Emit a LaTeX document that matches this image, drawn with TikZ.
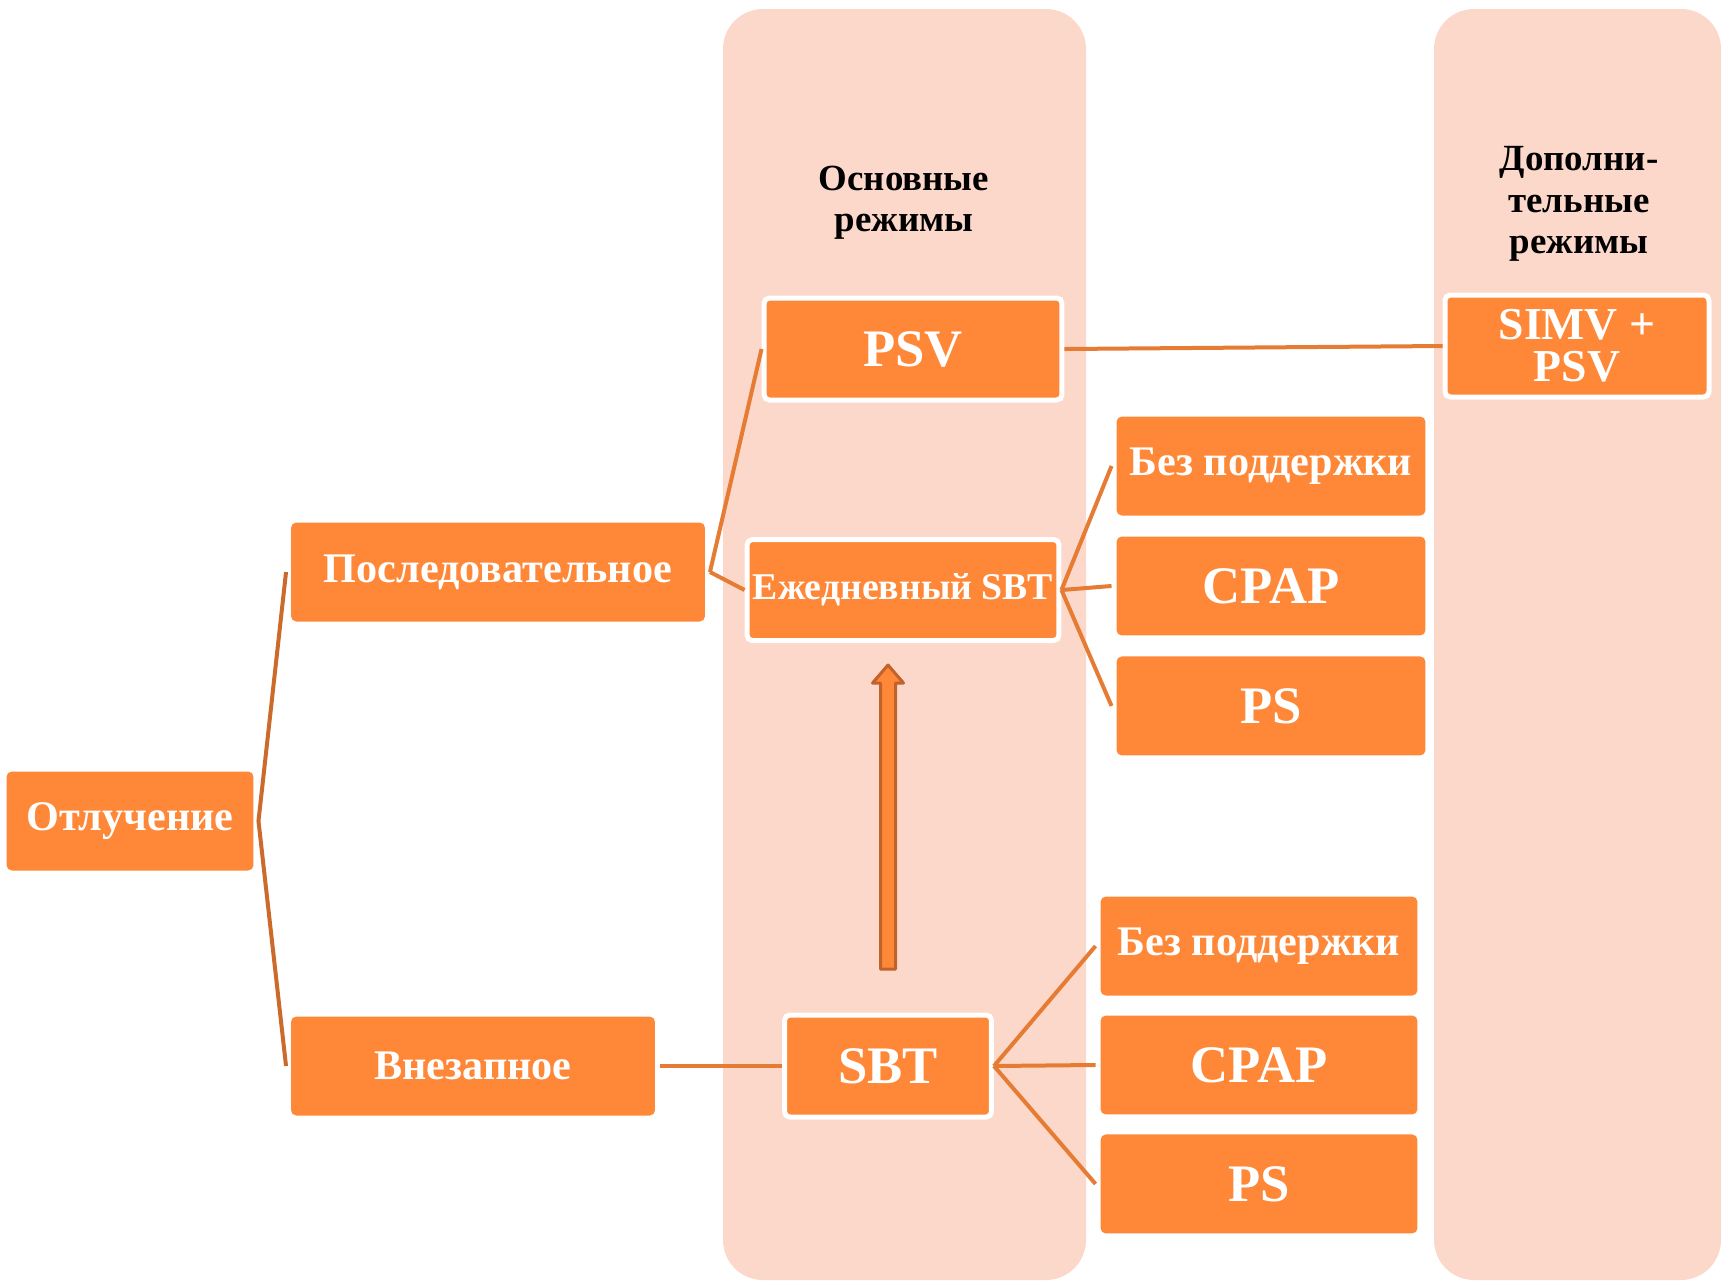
\documentclass[tikz,border=0pt]{standalone}
\usepackage{fontspec}
\setmainfont{Liberation Serif}
\usepackage{tikz}
\usetikzlibrary{positioning}
\definecolor{boxfill}{RGB}{254,136,56}
\definecolor{panelfill}{RGB}{252,216,203}
\definecolor{linkc}{RGB}{230,124,52}
\definecolor{linkdark}{RGB}{204,106,44}
\definecolor{arrdark}{RGB}{192,98,42}

\begin{document}
\begin{tikzpicture}[
  x=0.02cm, y=-0.02cm,
  node distance=0.22cm,
  box/.style={rectangle, rounded corners=3pt, fill=boxfill, text=white, align=center,
              inner sep=0pt, outer sep=0.1cm, minimum height=1.98cm},
  framed/.style={box, draw=white, line width=0.1cm, outer sep=0.05cm},
  txtbig/.style={font=\fontsize{30}{31}\selectfont\bfseries},
  txtmid/.style={font=\fontsize{24}{26}\selectfont\bfseries},
  txtsmall/.style={font=\fontsize{21.5}{23}\selectfont\bfseries},
  head/.style={font=\fontsize{21}{23.5}\selectfont\bfseries, align=center, text=black},
  link/.style={draw=linkc, line width=0.08cm},
  blockarr/.style={fill=boxfill, draw=arrdark, line width=0.06cm, line join=round}
]
  \useasboundingbox (0,0) rectangle (1723,1282);

  % column panels
  \fill[panelfill, rounded corners=0.8cm] (723,9) rectangle (1086,1280);
  \fill[panelfill, rounded corners=0.8cm] (1434,9) rectangle (1721,1280);
  \node[head] (mainhead) at (904,203) {Основные\\режимы};
  \node[head] (extrahead) at (1579,204) {Дополни-\\тельные\\режимы};

  % tree
  \node[box, txtmid, minimum width=4.94cm] (otl) at (130,821) {Отлучение};
  \node[box, txtmid, minimum width=8.28cm] (posl) at (498,572) {Последовательное};
  \node[box, txtmid, minimum width=7.28cm] (vnez) at (473,1066) {Внезапное};

  \node[framed, txtbig, minimum width=5.96cm, minimum height=2.04cm] (psv) at (913,349) {PSV};
  \node[framed, txtsmall, minimum width=6.24cm, minimum height=2.02cm] (daily) at (903,590) {Ежедневный SBT};
  \node[framed, txtbig, minimum width=4.14cm, minimum height=2.04cm] (sbt) at (888,1066) {SBT};
  \node[framed, font=\fontsize{26}{24}\selectfont\bfseries, minimum width=5.28cm, minimum height=2.04cm] (simv) at (1577,346) {SIMV +\\PSV};

  \node[box, txtmid, minimum width=6.18cm] (nosup1) at (1271,466) {Без поддержки};
  \node[box, txtbig, minimum width=6.18cm, below=of nosup1] (cpap1) {CPAP};
  \node[box, txtbig, minimum width=6.18cm, below=of cpap1] (ps1) {PS};

  \node[box, txtmid, minimum width=6.34cm] (nosup2) at (1259,946) {Без поддержки};
  \node[box, txtbig, minimum width=6.34cm, below=0.2cm of nosup2] (cpap2) {CPAP};
  \node[box, txtbig, minimum width=6.34cm, below=0.2cm of cpap2] (ps2) {PS};

  \draw[link, draw=linkdark] (otl.east) -- (posl.west);
  \draw[link, draw=linkdark] (otl.east) -- (vnez.west);
  \draw[link] (posl.east) -- (psv.west);
  \draw[link] (posl.east) -- (daily.west);
  \draw[link] (psv.east) -- (simv.west);
  \draw[link] (daily.east) -- (nosup1.west);
  \draw[link] (daily.east) -- (cpap1.west);
  \draw[link] (daily.east) -- (ps1.west);
  \draw[link] (vnez.east) -- (sbt.west);
  \draw[link] (sbt.east) -- (nosup2.west);
  \draw[link] (sbt.east) -- (cpap2.west);
  \draw[link] (sbt.east) -- (ps2.west);

  % upward block arrow
  \coordinate (upfoot) at (888,969);
  \draw[blockarr] (upfoot) ++(-7.5,0) -- ++(0,-286) -- ++(-8,0) -- ++(15.5,-18)
    -- ++(15.5,18) -- ++(-8,0) -- ++(0,286) -- cycle;
\end{tikzpicture}
\end{document}
